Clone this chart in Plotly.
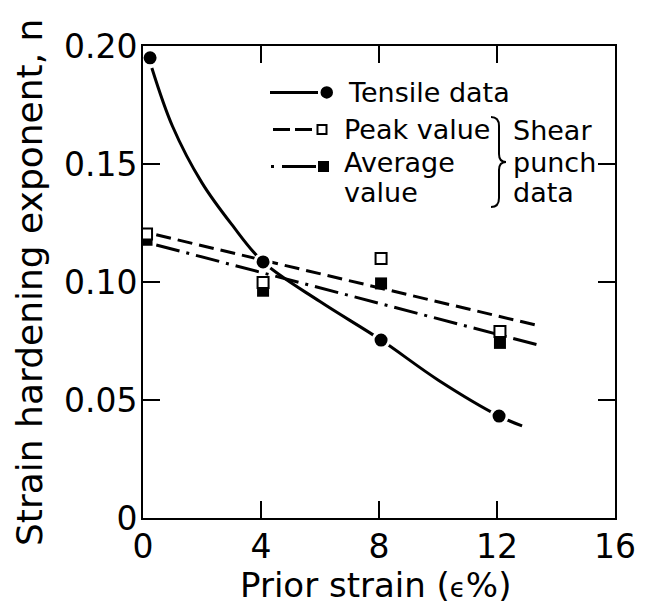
import plotly.graph_objects as go

# ---------------- data ----------------
tensile_strain = [0.24, 4.07, 8.07, 12.07]
tensile_n = [0.195, 0.1085, 0.0754, 0.0432]

# smooth curve drawn through the tensile data
tensile_curve_strain = [0.30, 1.0, 2.0, 3.0, 4.07, 6.0, 8.07, 10.0, 12.07, 12.85]
tensile_curve_n = [0.1907, 0.1660, 0.1420, 0.1245, 0.1085, 0.0917, 0.0754, 0.0585, 0.0432, 0.0390]

punch_strain = [0.12, 4.07, 8.07, 12.1]
peak_n = [0.1203, 0.0998, 0.1100, 0.0790]
average_n = [0.1179, 0.0963, 0.0994, 0.0742]

peak_fit_strain = [0.45, 13.3]
peak_fit_n = [0.1200, 0.0818]
average_fit_strain = [0.45, 13.4]
average_fit_n = [0.1157, 0.0733]

x_ticks = [0, 4, 8, 12, 16]
x_tick_labels = ["0", "4", "8", "12", "16"]
y_ticks = [0, 0.05, 0.10, 0.15, 0.20]
y_tick_labels = ["0", "0.05", "0.10", "0.15", "0.20"]

x_title = "Prior strain (<span style='font-size:26px'>\u03f5</span>%)"
y_title = "Strain hardening exponent, n"
legend_labels = ["Tensile data", "Peak value", "Average", "value"]
group_labels = ["Shear", "punch", "data"]

FONT = "DejaVu Sans"
BLACK = "black"

# ---------------- layout geometry ----------------
L, T, W, H = 143, 46, 472, 472


def px(x):
    return (x - L) / W


def py(y):
    return (T + H - y) / H


fig = go.Figure()

fig.add_trace(go.Scatter(x=peak_fit_strain, y=peak_fit_n, mode="lines",
                         line=dict(color=BLACK, width=3, dash="15px,7px"), showlegend=False))
fig.add_trace(go.Scatter(x=average_fit_strain, y=average_fit_n, mode="lines",
                         line=dict(color=BLACK, width=3, dash="24px,7px,3px,7px"), showlegend=False))
fig.add_trace(go.Scatter(x=tensile_curve_strain, y=tensile_curve_n, mode="lines",
                         line=dict(color=BLACK, width=3, shape="spline", smoothing=1.0), showlegend=False))
fig.add_trace(go.Scatter(x=punch_strain, y=average_n, mode="markers",
                         marker=dict(symbol="square", size=12, color=BLACK, line=dict(width=0)),
                         showlegend=False))
fig.add_trace(go.Scatter(x=punch_strain, y=peak_n, mode="markers",
                         marker=dict(symbol="square", size=11, color="white",
                                     line=dict(color=BLACK, width=2)), showlegend=False))
fig.add_trace(go.Scatter(x=tensile_strain, y=tensile_n, mode="markers",
                         marker=dict(symbol="circle", size=16, color=BLACK,
                                     line=dict(color="white", width=3)), showlegend=False))

shapes = []
annotations = []

# legend samples
ly = [92.5, 129.5, 166.5]
shapes.append(dict(type="line", xref="paper", yref="paper", x0=px(270), x1=px(318), y0=py(ly[0]), y1=py(ly[0]),
                   line=dict(color=BLACK, width=3)))
shapes.append(dict(type="circle", xref="paper", yref="paper", x0=px(320.5), x1=px(333), y0=py(98.7), y1=py(86.2),
                   fillcolor=BLACK, line=dict(width=0)))
shapes.append(dict(type="line", xref="paper", yref="paper", x0=px(273), x1=px(312), y0=py(ly[1]), y1=py(ly[1]),
                   line=dict(color=BLACK, width=3, dash="17px,5px")))
shapes.append(dict(type="rect", xref="paper", yref="paper", x0=px(317.5), x1=px(326.5), y0=py(134), y1=py(125),
                   fillcolor="white", line=dict(color=BLACK, width=2)))
shapes.append(dict(type="line", xref="paper", yref="paper", x0=px(271), x1=px(316), y0=py(ly[2]), y1=py(ly[2]),
                   line=dict(color=BLACK, width=3, dash="3px,8px,40px,10px")))
shapes.append(dict(type="rect", xref="paper", yref="paper", x0=px(318), x1=px(329), y0=py(172), y1=py(161),
                   fillcolor=BLACK, line=dict(width=0)))

# brace
bx0, bx1, bx2 = px(491), px(499), px(506)
by0, by1, by2, by3, by4 = py(117), py(126), py(162), py(198), py(207)
path = (f"M {bx0},{by0} Q {bx1},{by0} {bx1},{by1} L {bx1},{py(154)} "
        f"Q {bx1},{by2} {bx2},{by2} Q {bx1},{by2} {bx1},{py(170)} "
        f"L {bx1},{by3} Q {bx1},{by4} {bx0},{by4}")
shapes.append(dict(type="path", xref="paper", yref="paper", path=path, line=dict(color=BLACK, width=2)))

legend_pos = [(346, 92.7), (342, 129.5), (342, 162.5), (342, 192.5)]
for text, (xx, yy) in zip(legend_labels, legend_pos):
    annotations.append(dict(text=text, xref="paper", yref="paper", x=px(xx), y=py(yy),
                            xanchor="left", yanchor="middle", showarrow=False,
                            font=dict(family=FONT, size=27, color=BLACK)))
group_pos = [(511, 130.5), (511, 162.5), (511, 192.5)]
for text, (xx, yy) in zip(group_labels, group_pos):
    annotations.append(dict(text=text, xref="paper", yref="paper", x=px(xx), y=py(yy),
                            xanchor="left", yanchor="middle", showarrow=False,
                            font=dict(family=FONT, size=27, color=BLACK)))

# axis titles
annotations.append(dict(text=x_title, xref="paper", yref="paper", x=px(375), y=py(585),
                        xanchor="center", yanchor="middle", showarrow=False,
                        font=dict(family=FONT, size=34, color=BLACK)))
annotations.append(dict(text=y_title, xref="paper", yref="paper", x=px(29), y=py(283),
                        xanchor="center", yanchor="middle", textangle=-90, showarrow=False,
                        font=dict(family=FONT, size=36, color=BLACK)))

axis_common = dict(showline=True, linecolor=BLACK, linewidth=2, mirror="ticks",
                   ticks="inside", ticklen=17, tickwidth=2, tickcolor=BLACK,
                   showgrid=False, zeroline=False,
                   tickfont=dict(family=FONT, size=33, color=BLACK))

fig.update_layout(
    width=650, height=606,
    margin=dict(l=L, r=650 - L - W, t=T, b=606 - T - H),
    paper_bgcolor="white", plot_bgcolor="white",
    xaxis=dict(range=[0, 16], tickvals=x_ticks, ticktext=x_tick_labels, ticklabelstandoff=-2, **axis_common),
    yaxis=dict(range=[0, 0.2], tickvals=y_ticks, ticktext=y_tick_labels, ticklabelstandoff=-3, **axis_common),
    shapes=shapes, annotations=annotations, showlegend=False,
)

fig.write_html("out.html")
